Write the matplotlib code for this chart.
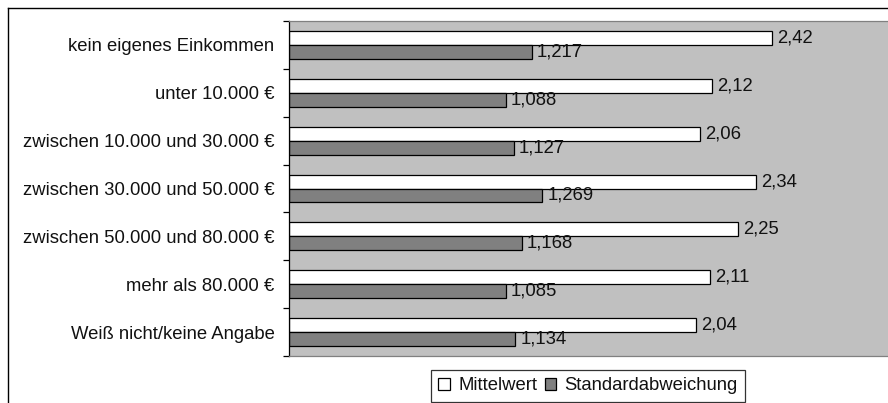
import numpy as np
import matplotlib
matplotlib.use("Agg")
import matplotlib.pyplot as plt
from matplotlib.lines import Line2D

plt.rcParams["font.family"] = ["Liberation Sans", "DejaVu Sans"]

# Data
categories = [
    "kein eigenes Einkommen",
    "unter 10.000 €",
    "zwischen 10.000 und 30.000 €",
    "zwischen 30.000 und 50.000 €",
    "zwischen 50.000 und 80.000 €",
    "mehr als 80.000 €",
    "Weiß nicht/keine Angabe",
]
mittelwert = [2.42, 2.12, 2.06, 2.34, 2.25, 2.11, 2.04]
std_abw = [1.217, 1.088, 1.127, 1.269, 1.168, 1.085, 1.134]
series_names = ["Mittelwert", "Standardabweichung"]


def de_num(v, digits):
    """Format a number with a German decimal comma."""
    return f"{v:.{digits}f}".replace(".", ",")


fig = plt.figure(figsize=(8.88, 4.03), dpi=100)
ax = fig.add_axes([289 / 888, 1 - 356 / 403, 1 - 289 / 888, 335 / 403])
ax.set_facecolor("#c0c0c0")

y = np.arange(len(categories))
h = 0.29
fs = 13.3

b1 = ax.barh(y - h / 2, mittelwert, height=h, color="white",
             edgecolor="black", linewidth=0.9, label=series_names[0])
b2 = ax.barh(y + h / 2, std_abw, height=h, color="#808080",
             edgecolor="black", linewidth=0.9, label=series_names[1])

ax.bar_label(b1, labels=[de_num(v, 2) for v in mittelwert], padding=3.5,
             fontsize=fs, color="#111111")
ax.bar_label(b2, labels=[de_num(v, 3) for v in std_abw], padding=3.5,
             fontsize=fs, color="#111111")

ax.set_xlim(0, 3)
ax.set_ylim(len(categories) - 0.5, -0.5)

# category boundaries get tick marks, the labels sit in between
ax.set_yticks(np.arange(len(categories) + 1) - 0.5)
ax.set_yticklabels([])
ax.set_yticks(y, minor=True)
ax.set_yticklabels(categories, minor=True, fontsize=fs, color="#111111")
ax.tick_params(axis="y", which="major", length=4.5, width=0.9, color="black")
ax.tick_params(axis="y", which="minor", length=0, pad=10.5)
ax.xaxis.set_visible(False)

ax.spines["right"].set_visible(False)
ax.spines["left"].set_color("black")
ax.spines["left"].set_linewidth(0.9)
for s in ("top", "bottom"):
    ax.spines[s].set_color("#808080")
    ax.spines[s].set_linewidth(0.9)

leg = fig.legend(handles=[b1, b2], loc="center", ncol=2,
                 bbox_to_anchor=(588 / 888, 1 - 386 / 403),
                 fontsize=fs, frameon=True, fancybox=False,
                 handlelength=0.62, handleheight=0.62, handletextpad=0.45,
                 columnspacing=0.4, borderpad=0.4, borderaxespad=0)
leg.get_frame().set_edgecolor("black")
leg.get_frame().set_linewidth(0.9)
for t in leg.get_texts():
    t.set_color("#111111")

# outer chart frame (only top and left edges are inside the crop)
fig.add_artist(Line2D([8 / 888, 1.0], [1 - 8 / 403] * 2,
                      transform=fig.transFigure, color="black", lw=1.0))
fig.add_artist(Line2D([8 / 888] * 2, [0, 1 - 8 / 403],
                      transform=fig.transFigure, color="black", lw=1.0))

fig.savefig("out.png", dpi=100)
